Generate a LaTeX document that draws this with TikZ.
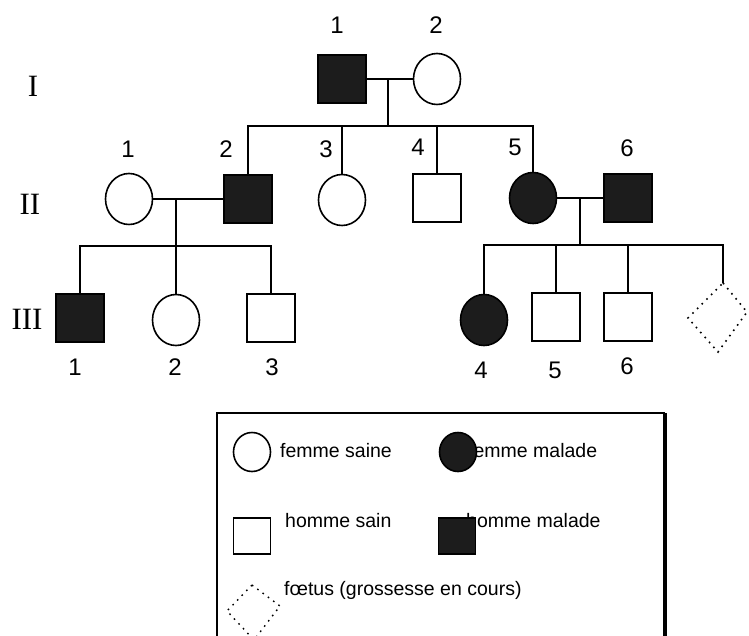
\documentclass[tikz,border=0pt]{standalone}
\usepackage{fontspec}
\setmainfont{Liberation Sans}
\newfontfamily\romanfont{Liberation Serif}
\usetikzlibrary{shapes.geometric}
\definecolor{aff}{HTML}{1C1C1C}
\tikzset{
  lw/.style={line width=1.6pt},
  sq/.style={draw, line width=1.6pt, rectangle, minimum width=48pt, minimum height=48pt, inner sep=0pt, fill=white},
  sqa/.style={sq, fill=aff},
  ci/.style={draw, line width=1.6pt, ellipse, minimum width=47pt, minimum height=51pt, inner sep=0pt, fill=white},
  cia/.style={ci, fill=aff},
  lsq/.style={sq, minimum width=37pt, minimum height=36pt},
  lsqa/.style={lsq, fill=aff},
  lci/.style={ci, minimum width=37pt, minimum height=39pt},
  lcia/.style={lci, fill=aff},
  num/.style={font=\fontsize{24}{24}\selectfont, inner sep=0pt},
  gen/.style={font=\romanfont\fontsize{31}{31}\selectfont, inner sep=0pt},
  leg/.style={font=\fontsize{19.5}{20}\selectfont, inner sep=0pt, anchor=west},
  fet/.style={line width=1.6pt, dash pattern=on 1.6pt off 5pt},
}
\begin{document}
\begin{tikzpicture}[x=1pt,y=-1pt]
\useasboundingbox (0,0) rectangle (749,636);

% generation labels
\node[gen] (gI) at (33,86) {I};
\node[gen] (gII) at (30,204) {II};
\node[gen] (gIII) at (27,319) {III};

% generation I
\node[sqa] (I1) at (342,79) {};
\node[ci] (I2) at (437,79) {};
\node[num] (nI1) at (337,25) {1};
\node[num] (nI2) at (436,25) {2};

% generation II
\node[ci] (II1) at (129,199) {};
\node[sqa] (II2) at (248,199) {};
\node[ci] (II3) at (342,200) {};
\node[sq] (II4) at (437,198) {};
\node[cia] (II5) at (533,198) {};
\node[sqa] (II6) at (628,198) {};
\node[num] (nII1) at (128,149) {1};
\node[num] (nII2) at (226,149) {2};
\node[num] (nII3) at (326,149) {3};
\node[num] (nII4) at (418,147) {4};
\node[num] (nII5) at (515,147) {5};
\node[num] (nII6) at (627,148) {6};

% generation III
\node[sqa] (III1) at (80,318) {};
\node[ci] (III2) at (176,320) {};
\node[sq] (III3) at (271,318) {};
\node[cia] (III4) at (484,320) {};
\node[sq] (III5) at (556,317) {};
\node[sq] (III6) at (628,317) {};
\coordinate (F) at (723,283);
\draw[fet] (F) -- (747,312) -- (718,352) -- (688,318) -- cycle;
\node[num] (nIII1) at (75,367) {1};
\node[num] (nIII2) at (175,367) {2};
\node[num] (nIII3) at (272,367) {3};
\node[num] (nIII4) at (481,370) {4};
\node[num] (nIII5) at (555,370) {5};
\node[num] (nIII6) at (627,366) {6};

% connectors generation I
\draw[lw] (I1.east) -- (I2.west);
\coordinate (m1) at (388,79);
\coordinate (s1) at (388,126);
\draw[lw] (m1) -- (s1);
\draw[lw] (II2.north) |- (II5.north |- s1) -- (II5.north);
\draw[lw] (II3.north) -- (II3.north |- s1);
\draw[lw] (II4.north) -- (II4.north |- s1);

% connectors II1 x II2
\draw[lw] (II1.east) -- (II2.west);
\coordinate (m2) at (176,199);
\coordinate (s2) at (176,246);
\draw[lw] (m2) -- (s2);
\draw[lw] (III1.north) |- (III3.north |- s2) -- (III3.north);
\draw[lw] (III2.north) -- (III2.north |- s2);

% connectors II5 x II6
\draw[lw] (II5.east) -- (II6.west);
\coordinate (m3) at (580,198);
\coordinate (s3) at (580,245);
\draw[lw] (m3) -- (s3);
\draw[lw] (III4.north) |- (F |- s3) -- (F);
\draw[lw] (III5.north) -- (III5.north |- s3);
\draw[lw] (III6.north) -- (III6.north |- s3);

% legend
\coordinate (Lbl) at (217,645);
\coordinate (Ltl) at (217,413);
\coordinate (Ltr) at (665,413);
\coordinate (Lbr) at (665,645);
\draw[line width=1.4pt] (Lbl) -- (Ltl) -- (Ltr);
\draw[line width=3.6pt] (Ltr) -- (Lbr);

\node[leg] (t1) at (280,451) {femme saine};
\node[leg] (t2) at (468,451) {femme malade};
\node[leg] (t3) at (285,521) {homme sain};
\node[leg] (t4) at (466,521) {homme malade};
\node[leg] (t5) at (284,590) {fœtus (grossesse en cours)};

\node[lci] (l1) at (252,452) {};
\node[lcia] (l2) at (458,452) {};
\node[lsq] (l3) at (252,536) {};
\node[lsqa] (l4) at (457,536) {};
\coordinate (l5) at (252,585);
\draw[fet, line width=1.4pt] (l5) -- (280,606) -- (254,640) -- (227,611) -- cycle;
\end{tikzpicture}
\end{document}
